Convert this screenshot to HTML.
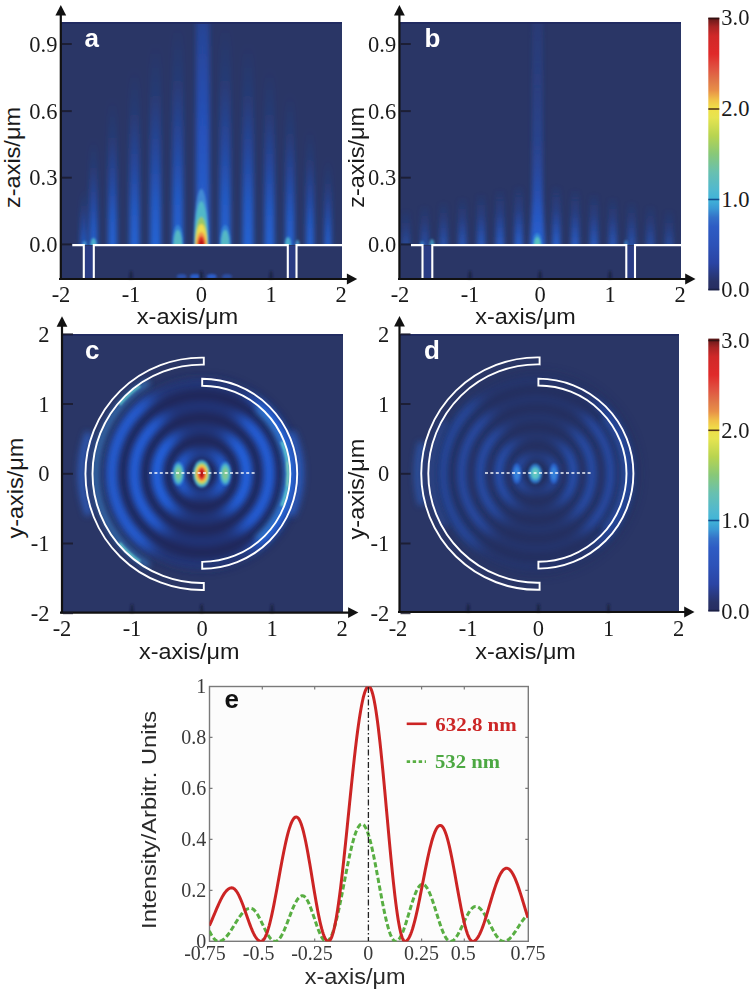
<!DOCTYPE html>
<html><head><meta charset="utf-8">
<style>
html,body{margin:0;padding:0;background:#fff;width:750px;height:992px;overflow:hidden}
svg{display:block}
.tk{font-family:"Liberation Serif",serif;font-size:22.5px;fill:#1a1a1a}
.tt{font-family:"Liberation Sans",sans-serif;font-size:22.5px;fill:#1a1a1a}
.lb{font-family:"Liberation Sans",sans-serif;font-size:26px;font-weight:bold;fill:#fff}
.ek{font-family:"Liberation Serif",serif;font-size:20px;fill:#3a3a3a}
.lg{font-family:"Liberation Serif",serif;font-size:18px;font-weight:bold}
</style></head><body>
<svg width="750" height="992" viewBox="0 0 750 992">
<defs>
  <filter id="b1" x="-50%" y="-50%" width="200%" height="200%"><feGaussianBlur stdDeviation="1"/></filter>
  <filter id="b2" x="-50%" y="-50%" width="200%" height="200%"><feGaussianBlur stdDeviation="2"/></filter>
  <filter id="b3" x="-50%" y="-50%" width="200%" height="200%"><feGaussianBlur stdDeviation="3"/></filter>
  <filter id="b4" x="-50%" y="-50%" width="200%" height="200%"><feGaussianBlur stdDeviation="4"/></filter>
  <filter id="b6" x="-50%" y="-50%" width="200%" height="200%"><feGaussianBlur stdDeviation="6"/></filter>
  <linearGradient id="cbar" x1="0" y1="1" x2="0" y2="0">
    <stop offset="0" stop-color="#262c60"/>
    <stop offset="0.033" stop-color="#283268"/>
    <stop offset="0.1" stop-color="#2a44a4"/>
    <stop offset="0.167" stop-color="#2c52b8"/>
    <stop offset="0.233" stop-color="#2e5cc4"/>
    <stop offset="0.267" stop-color="#3470c8"/>
    <stop offset="0.3" stop-color="#3a98d4"/>
    <stop offset="0.333" stop-color="#40b4d8"/>
    <stop offset="0.367" stop-color="#50b8d0"/>
    <stop offset="0.433" stop-color="#68c0b0"/>
    <stop offset="0.5" stop-color="#88c878"/>
    <stop offset="0.567" stop-color="#b8d450"/>
    <stop offset="0.633" stop-color="#e6e450"/>
    <stop offset="0.667" stop-color="#f0e048"/>
    <stop offset="0.7" stop-color="#f0c048"/>
    <stop offset="0.733" stop-color="#e89048"/>
    <stop offset="0.767" stop-color="#e07848"/>
    <stop offset="0.817" stop-color="#e05040"/>
    <stop offset="0.867" stop-color="#e02a2a"/>
    <stop offset="0.933" stop-color="#d02828"/>
    <stop offset="0.967" stop-color="#a82424"/>
    <stop offset="1.0" stop-color="#601818"/>
  </linearGradient>
  <linearGradient id="sg" x1="0" y1="0" x2="0" y2="1">
    <stop offset="0" stop-color="#2058d0" stop-opacity="0"/>
    <stop offset="0.25" stop-color="#2058d0" stop-opacity="0.15"/>
    <stop offset="0.5" stop-color="#2058d0" stop-opacity="0.5"/>
    <stop offset="0.75" stop-color="#2260d4" stop-opacity="0.85"/>
    <stop offset="1" stop-color="#2466d8" stop-opacity="1"/>
  </linearGradient>
  <linearGradient id="sgc" x1="0" y1="0" x2="0" y2="1">
    <stop offset="0" stop-color="#2450c4" stop-opacity="0.3"/>
    <stop offset="0.12" stop-color="#2454c8" stop-opacity="0.5"/>
    <stop offset="0.5" stop-color="#2458d0" stop-opacity="0.8"/>
    <stop offset="1" stop-color="#2a68d8" stop-opacity="1"/>
  </linearGradient>
  <linearGradient id="sgb" x1="0" y1="0" x2="0" y2="1">
    <stop offset="0" stop-color="#2458d0" stop-opacity="0"/>
    <stop offset="0.4" stop-color="#2458d0" stop-opacity="0.3"/>
    <stop offset="0.75" stop-color="#2660d4" stop-opacity="0.75"/>
    <stop offset="1" stop-color="#2a68d8" stop-opacity="1"/>
  </linearGradient>
  <linearGradient id="sgbc" x1="0" y1="0" x2="0" y2="1">
    <stop offset="0" stop-color="#2a56c4" stop-opacity="0.12"/>
    <stop offset="0.4" stop-color="#2a56c4" stop-opacity="0.3"/>
    <stop offset="0.7" stop-color="#2a58c8" stop-opacity="0.5"/>
    <stop offset="1" stop-color="#2a60d4" stop-opacity="0.8"/>
  </linearGradient>
  <radialGradient id="spotA" cx="0.5" cy="0.5" r="0.5">
    <stop offset="0" stop-color="#c81818"/>
    <stop offset="0.1" stop-color="#e84030"/>
    <stop offset="0.22" stop-color="#f0c840"/>
    <stop offset="0.34" stop-color="#b0d058"/>
    <stop offset="0.5" stop-color="#58c0b8"/>
    <stop offset="0.7" stop-color="#3c9ad8" stop-opacity="0.8"/>
    <stop offset="1" stop-color="#3070d8" stop-opacity="0"/>
  </radialGradient>
  <radialGradient id="spotCy" cx="0.5" cy="0.5" r="0.5">
    <stop offset="0" stop-color="#70d0b8"/>
    <stop offset="0.35" stop-color="#48b8d8"/>
    <stop offset="0.7" stop-color="#3a8ad8" stop-opacity="0.6"/>
    <stop offset="1" stop-color="#3070d8" stop-opacity="0"/>
  </radialGradient>
  <clipPath id="abv"><rect x="0" y="0" width="750" height="245"/></clipPath>
  <filter id="mb10" x="-50%" y="-50%" width="200%" height="200%"><feGaussianBlur stdDeviation="10"/></filter>
  <filter id="bh" x="-100%" y="-20%" width="300%" height="140%"><feGaussianBlur stdDeviation="2.6 4"/></filter>
  <filter id="bh2" x="-100%" y="-20%" width="300%" height="140%"><feGaussianBlur stdDeviation="2 1"/></filter>
  <clipPath id="cpa"><rect x="60" y="22" width="282" height="257"/></clipPath>
  <clipPath id="cpb"><rect x="399" y="22" width="282" height="257"/></clipPath>
  <clipPath id="cpc"><rect x="61" y="334" width="282" height="279"/></clipPath>
  <clipPath id="cpd"><rect x="399" y="334" width="280" height="278"/></clipPath>
  <clipPath id="cpe"><rect x="209.5" y="686.5" width="318.5" height="255"/></clipPath>
</defs>

<rect x="60" y="22" width="282" height="257" fill="#2a3666"/>
<g id="hma" clip-path="url(#cpa)">
<g clip-path="url(#abv)"><g filter="url(#bh)">
<rect x="196" y="0" width="13.5" height="256" fill="url(#sgc)"/>
<rect x="172.3" y="25" width="11" height="231" fill="url(#sg)"/>
<rect x="219.7" y="25" width="11" height="231" fill="url(#sg)"/>
<rect x="150.0" y="45" width="11" height="211" fill="url(#sg)"/>
<rect x="242.5" y="45" width="11" height="211" fill="url(#sg)"/>
<rect x="129.5" y="70" width="10" height="186" fill="url(#sg)"/>
<rect x="264.5" y="70" width="10" height="186" fill="url(#sg)"/>
<rect x="108.0" y="100" width="9" height="156" fill="url(#sg)"/>
<rect x="285.5" y="95" width="9" height="161" fill="url(#sg)"/>
<rect x="89.5" y="140" width="8" height="116" fill="url(#sg)"/>
<rect x="306.0" y="130" width="8" height="126" fill="url(#sg)"/>
<rect x="80.5" y="190" width="6" height="66" fill="url(#sg)"/>
<rect x="324.5" y="160" width="7" height="96" fill="url(#sg)"/>
</g></g>
<g clip-path="url(#abv)"><g filter="url(#b1)">
<ellipse cx="201.3" cy="245" rx="7.5" ry="56" fill="#4a9ad8" opacity="0.75"/>
<ellipse cx="201.3" cy="245" rx="6.8" ry="44" fill="#52bcc8" opacity="0.95"/>
<ellipse cx="201.3" cy="245" rx="6.3" ry="28" fill="#98c868" opacity="1"/>
<ellipse cx="201.3" cy="245" rx="5.8" ry="21" fill="#f0dc50" opacity="1"/>
<ellipse cx="201.3" cy="245" rx="4.8" ry="13" fill="#f09848" opacity="1"/>
<ellipse cx="201.3" cy="245" rx="3.8" ry="9" fill="#e03028" opacity="1"/>
<ellipse cx="201.3" cy="245" rx="2.4" ry="5" fill="#b81818" opacity="1"/>
<ellipse cx="177.8" cy="245" rx="5.5" ry="20" fill="#3a90d8" opacity="0.7"/>
<ellipse cx="177.8" cy="245" rx="4.3" ry="15" fill="#56bcc4" opacity="0.95"/>
<ellipse cx="225.2" cy="245" rx="5.5" ry="20" fill="#3a90d8" opacity="0.7"/>
<ellipse cx="225.2" cy="245" rx="4.3" ry="15" fill="#56bcc4" opacity="0.95"/>
<ellipse cx="93.5" cy="245" rx="3" ry="7" fill="#50b8d0" opacity="0.9"/>
<ellipse cx="84.5" cy="245" rx="2" ry="4" fill="#4aa0d8" opacity="0.8"/>
<ellipse cx="288" cy="245" rx="3" ry="8" fill="#50b8d0" opacity="0.9"/>
<ellipse cx="297.5" cy="245" rx="2" ry="5" fill="#4aa0d8" opacity="0.8"/>
</g></g>
<g filter="url(#b1)">
<ellipse cx="181.6" cy="276.5" rx="5" ry="2.6" fill="#2c64dc" opacity="0.6"/>
<ellipse cx="195" cy="276.5" rx="5" ry="2.6" fill="#2c64dc" opacity="0.85"/>
<ellipse cx="211.6" cy="276.5" rx="5" ry="2.6" fill="#2c64dc" opacity="0.85"/>
<ellipse cx="227" cy="276.5" rx="5" ry="2.6" fill="#2c64dc" opacity="0.5"/>
</g>
</g>
<rect x="60" y="22" width="282" height="2" fill="#1e2660" opacity="0.7"/>
<rect x="399" y="22" width="282" height="257" fill="#2a3666"/>
<g id="hmb" clip-path="url(#cpb)">
<g clip-path="url(#abv)"><g filter="url(#bh2)">
<rect x="532" y="0" width="11" height="250" fill="url(#sgbc)"/>
<path d="M529.5,250 L534.5,150 L540.5,150 L545.5,250 Z" fill="url(#sgb)" opacity="0.9"/>
<rect x="382.85" y="212" width="8.5" height="38" fill="url(#sgb)" opacity="0.45"/>
<rect x="401.65" y="208" width="8.5" height="42" fill="url(#sgb)" opacity="0.51"/>
<rect x="420.45" y="204" width="8.5" height="46" fill="url(#sgb)" opacity="0.58"/>
<rect x="439.25" y="200" width="8.5" height="50" fill="url(#sgb)" opacity="0.65"/>
<rect x="458.05" y="196" width="8.5" height="54" fill="url(#sgb)" opacity="0.72"/>
<rect x="476.85" y="192" width="8.5" height="58" fill="url(#sgb)" opacity="0.79"/>
<rect x="495.65" y="188" width="8.5" height="62" fill="url(#sgb)" opacity="0.86"/>
<rect x="514.45" y="184" width="8.5" height="66" fill="url(#sgb)" opacity="0.93"/>
<rect x="552.05" y="184" width="8.5" height="66" fill="url(#sgb)" opacity="0.93"/>
<rect x="570.85" y="188" width="8.5" height="62" fill="url(#sgb)" opacity="0.86"/>
<rect x="589.65" y="192" width="8.5" height="58" fill="url(#sgb)" opacity="0.79"/>
<rect x="608.45" y="196" width="8.5" height="54" fill="url(#sgb)" opacity="0.72"/>
<rect x="627.25" y="200" width="8.5" height="50" fill="url(#sgb)" opacity="0.65"/>
<rect x="646.05" y="204" width="8.5" height="46" fill="url(#sgb)" opacity="0.58"/>
<rect x="664.85" y="208" width="8.5" height="42" fill="url(#sgb)" opacity="0.51"/>
<rect x="683.65" y="212" width="8.5" height="38" fill="url(#sgb)" opacity="0.45"/>
</g></g>
<g clip-path="url(#abv)"><g filter="url(#b1)">
<ellipse cx="537.3" cy="245" rx="4.5" ry="12" fill="#3a90d8" opacity="0.8"/>
<ellipse cx="537.3" cy="245" rx="3.2" ry="8" fill="#58c4c0" opacity="1"/>
<ellipse cx="432" cy="245" rx="2.5" ry="6" fill="#4ab0d8" opacity="0.7"/>
<ellipse cx="422" cy="245" rx="2" ry="4" fill="#3a90d8" opacity="0.6"/>
<ellipse cx="626" cy="245" rx="2" ry="5" fill="#3a90d8" opacity="0.6"/>
</g></g>
</g>
<rect x="399" y="22" width="282" height="2" fill="#1e2660" opacity="0.7"/>
<rect x="61" y="334" width="282" height="279" fill="#2a3666"/>
<g id="hmc" clip-path="url(#cpc)">
<circle cx="201.7" cy="473.8" r="94" fill="#1a2454" opacity="0.7" filter="url(#b6)"/>
<mask id="mc" maskUnits="userSpaceOnUse" x="0" y="0" width="750" height="992">
<rect x="0" y="0" width="750" height="992" fill="rgb(56,56,56)"/>
<g filter="url(#mb10)">
<polygon points="201.7,473.8 316.4,637.6 316.4,310.0" fill="#fff"/>
<polygon points="201.7,473.8 87.0,310.0 87.0,637.6" fill="#fff"/>
</g></mask>
<g mask="url(#mc)"><g filter="url(#b3)">
<circle cx="201.7" cy="473.8" r="22.5" fill="none" stroke="#2460da" stroke-width="12" opacity="1.00"/>
<circle cx="201.7" cy="473.8" r="45" fill="none" stroke="#2460da" stroke-width="12" opacity="1.00"/>
<circle cx="201.7" cy="473.8" r="67.5" fill="none" stroke="#2460da" stroke-width="12" opacity="0.95"/>
<circle cx="201.7" cy="473.8" r="90" fill="none" stroke="#2460da" stroke-width="12" opacity="0.90"/>
</g></g>
<g filter="url(#b3)">
<path d="M148.70,382.00 A106,106 0 0 0 148.70,565.60" fill="none" stroke="#3a90e0" stroke-width="5" opacity="0.75"/>
<path d="M256.66,539.30 A85.5,85.5 0 0 0 256.66,408.30" fill="none" stroke="#3a90e0" stroke-width="5" opacity="0.8"/>
<path d="M88.94,432.76 A120,120 0 0 0 88.94,514.84" fill="none" stroke="#2f6ad8" stroke-width="7" opacity="0.7"/>
<path d="M291.42,515.64 A99,99 0 0 0 291.42,431.96" fill="none" stroke="#2f6ad8" stroke-width="7" opacity="0.7"/>
</g>
<g filter="url(#b1)">
<path d="M140.04,385.74 A107.5,107.5 0 0 0 119.35,404.70" fill="none" stroke="#60d0d0" stroke-width="2.5" opacity="0.9"/>
<path d="M119.35,542.90 A107.5,107.5 0 0 0 140.04,561.86" fill="none" stroke="#60d0d0" stroke-width="2.5" opacity="0.9"/>
<path d="M281.72,506.13 A86.3,86.3 0 0 0 281.72,441.47" fill="none" stroke="#60d0d0" stroke-width="3" opacity="0.9"/>
<path d="M287.16,485.81 A86.3,86.3 0 0 0 287.16,461.79" fill="none" stroke="#90e0b0" stroke-width="2.5" opacity="0.8"/>
</g>
<g filter="url(#b1)">
<ellipse cx="178.39999999999998" cy="473.8" rx="6" ry="12" fill="#3a90d8" opacity="0.8"/>
<ellipse cx="178.39999999999998" cy="473.8" rx="4.5" ry="9.5" fill="#58c0c0"/>
<ellipse cx="178.39999999999998" cy="473.8" rx="2.8" ry="6" fill="#80c890"/>
<ellipse cx="225.29999999999998" cy="473.8" rx="6" ry="12" fill="#3a90d8" opacity="0.8"/>
<ellipse cx="225.29999999999998" cy="473.8" rx="4.5" ry="9.5" fill="#58c0c0"/>
<ellipse cx="225.29999999999998" cy="473.8" rx="2.8" ry="6" fill="#80c890"/>
<ellipse cx="201.7" cy="473.8" rx="9" ry="14" fill="#3a90d8" opacity="0.8"/>
<ellipse cx="201.7" cy="473.8" rx="8" ry="12.5" fill="#56c0c0" opacity="1"/>
<ellipse cx="201.7" cy="473.8" rx="6.8" ry="10.5" fill="#a0cc60" opacity="1"/>
<ellipse cx="201.7" cy="473.8" rx="5.8" ry="9" fill="#f0dc50" opacity="1"/>
<ellipse cx="201.7" cy="473.8" rx="4.5" ry="7.5" fill="#f09048" opacity="1"/>
<ellipse cx="201.7" cy="473.8" rx="3.4" ry="6" fill="#e02828" opacity="1"/>
<ellipse cx="201.7" cy="473.8" rx="1.8" ry="3.5" fill="#b01818" opacity="1"/>
</g>
<path d="M203.8,357.62 A116.2,116.2 0 1 0 203.8,589.98 L203.8,582.98 A109.2,109.2 0 1 1 203.8,364.62 Z M202.2,378.80 A95.0,95.0 0 0 1 202.2,568.80 L202.2,561.90 A88.1,88.1 0 0 0 202.2,385.70 Z" fill="none" stroke="#fff" stroke-width="1.9"/>
<line x1="149" y1="473.0" x2="256" y2="473.0" stroke="#fff" stroke-width="1.5" stroke-dasharray="3,2.4" opacity="0.95"/>
</g>
<rect x="61" y="334" width="282" height="2" fill="#1e2660" opacity="0.7"/>
<rect x="399" y="334" width="280" height="278" fill="#2a3666"/>
<g id="hmd" clip-path="url(#cpd)">
<circle cx="537.6" cy="473.6" r="100" fill="#1c2656" opacity="0.4" filter="url(#b6)"/>
<mask id="md" maskUnits="userSpaceOnUse" x="0" y="0" width="750" height="992">
<rect x="0" y="0" width="750" height="992" fill="rgb(51,51,51)"/>
<g filter="url(#mb10)">
<polygon points="537.6,473.6 666.2,626.8 666.2,320.4" fill="#fff"/>
<polygon points="537.6,473.6 409.0,320.4 409.0,626.8" fill="#fff"/>
</g></mask>
<g mask="url(#md)"><g filter="url(#b3)">
<circle cx="536.1" cy="473.6" r="19" fill="none" stroke="#2660d8" stroke-width="10" opacity="0.60"/>
<circle cx="536.1" cy="473.6" r="37.5" fill="none" stroke="#2660d8" stroke-width="10" opacity="0.60"/>
<circle cx="536.1" cy="473.6" r="56" fill="none" stroke="#2660d8" stroke-width="10" opacity="0.57"/>
<circle cx="536.1" cy="473.6" r="74.5" fill="none" stroke="#2660d8" stroke-width="10" opacity="0.54"/>
<circle cx="536.1" cy="473.6" r="93" fill="none" stroke="#2660d8" stroke-width="10" opacity="0.48"/>
</g></g>
<g filter="url(#b3)">
<path d="M421.69,442.54 A120,120 0 0 0 421.69,504.66" fill="none" stroke="#2f6ad8" stroke-width="6" opacity="0.6"/>
<path d="M445.80,420.60 A106,106 0 0 0 445.80,526.60" fill="none" stroke="#2f6ad8" stroke-width="4" opacity="0.5"/>
<path d="M603.10,528.56 A85.5,85.5 0 0 0 603.10,418.64" fill="none" stroke="#2f6ad8" stroke-width="4" opacity="0.5"/>
</g>
<g filter="url(#b1)">
<ellipse cx="516.8000000000001" cy="473.6" rx="4.5" ry="10" fill="#2a6cd8" opacity="0.8"/>
<ellipse cx="516.8000000000001" cy="473.6" rx="2.8" ry="6.5" fill="#3a88dc" opacity="0.8"/>
<ellipse cx="553.8000000000001" cy="473.6" rx="4.5" ry="10" fill="#2a6cd8" opacity="0.8"/>
<ellipse cx="553.8000000000001" cy="473.6" rx="2.8" ry="6.5" fill="#3a88dc" opacity="0.8"/>
<ellipse cx="535.3000000000001" cy="473.6" rx="7" ry="10" fill="#3080d8" opacity="0.8"/>
<ellipse cx="535.3000000000001" cy="473.6" rx="5" ry="7" fill="#48b0d0" opacity="1"/>
<ellipse cx="535.3000000000001" cy="473.6" rx="3.2" ry="4.5" fill="#60c8c0" opacity="1"/>
</g>
<path d="M539.6,357.42 A116.2,116.2 0 1 0 539.6,589.78 L539.6,582.78 A109.2,109.2 0 1 1 539.6,364.42 Z M538.4,378.60 A95.0,95.0 0 0 1 538.4,568.60 L538.4,561.70 A88.1,88.1 0 0 0 538.4,385.50 Z" fill="none" stroke="#fff" stroke-width="1.9"/>
<line x1="485" y1="473.0" x2="592" y2="473.0" stroke="#fff" stroke-width="1.5" stroke-dasharray="3,2.4" opacity="0.95"/>
</g>
<rect x="399" y="334" width="280" height="2" fill="#1e2660" opacity="0.7"/>
<rect x="84.8" y="246" width="8.0" height="33" fill="#2a44a8" opacity="0.45"/>
<rect x="288.8" y="246" width="6.699999999999989" height="33" fill="#2a44a8" opacity="0.45"/>
<path d="M72.3,245.1 H83.8 V279 M93.8,279 V245.1 H287.8 V279 M296.5,279 V245.1 H342" fill="none" stroke="#fff" stroke-width="2.1"/>
<rect x="423.5" y="246" width="7.800000000000011" height="33" fill="#2a44a8" opacity="0.45"/>
<rect x="627.3" y="246" width="6.7000000000000455" height="33" fill="#2a44a8" opacity="0.45"/>
<path d="M411,245.1 H422.5 V279 M432.3,279 V245.1 H626.3 V279 M635,279 V245.1 H681" fill="none" stroke="#fff" stroke-width="2.1"/>
<g filter="url(#b1)"><path d="M129.4,279 L130,271 L132,271 L132.6,279 Z" fill="#1a1e3a" opacity="0.85"/><path d="M199.70000000000002,279 L200.3,271 L202.3,271 L202.9,279 Z" fill="#1a1e3a" opacity="0.85"/><path d="M269.4,279 L270,271 L272,271 L272.6,279 Z" fill="#1a1e3a" opacity="0.85"/><path d="M468.4,279 L469,271 L471,271 L471.6,279 Z" fill="#1a1e3a" opacity="0.85"/><path d="M538.4,279 L539,271 L541,271 L541.6,279 Z" fill="#1a1e3a" opacity="0.85"/><path d="M608.4,279 L609,271 L611,271 L611.6,279 Z" fill="#1a1e3a" opacity="0.85"/><path d="M130.4,612.6 L131,604.6 L133,604.6 L133.6,612.6 Z" fill="#1a1e3a" opacity="0.85"/><path d="M200.1,612.6 L200.7,604.6 L202.7,604.6 L203.29999999999998,612.6 Z" fill="#1a1e3a" opacity="0.85"/><path d="M270.4,612.6 L271,604.6 L273,604.6 L273.6,612.6 Z" fill="#1a1e3a" opacity="0.85"/><path d="M466.59999999999997,612 L467.2,604 L469.2,604 L469.8,612 Z" fill="#1a1e3a" opacity="0.85"/><path d="M536.8,612 L537.4,604 L539.4,604 L540.0,612 Z" fill="#1a1e3a" opacity="0.85"/><path d="M606.9,612 L607.5,604 L609.5,604 L610.1,612 Z" fill="#1a1e3a" opacity="0.85"/></g>
<line x1="60.8" y1="280" x2="60.8" y2="14" stroke="#111" stroke-width="2.2"/>
<polygon points="60.8,5 55.4,15.5 66.2,15.5" fill="#111"/>
<line x1="59" y1="279" x2="348.2" y2="279" stroke="#111" stroke-width="2.2"/>
<polygon points="357.2,279 346.9,273.6 346.9,284.4" fill="#111"/>
<line x1="399.4" y1="280" x2="399.4" y2="14" stroke="#111" stroke-width="2.2"/>
<polygon points="399.4,5 394.0,15.5 404.79999999999995,15.5" fill="#111"/>
<line x1="398" y1="279" x2="686.5" y2="279" stroke="#111" stroke-width="2.2"/>
<polygon points="695.5,279 685.2,273.6 685.2,284.4" fill="#111"/>
<line x1="62" y1="613.6" x2="62" y2="325.2" stroke="#111" stroke-width="2.2"/>
<polygon points="62,316.2 56.6,326.7 67.4,326.7" fill="#111"/>
<line x1="60" y1="612.6" x2="349.4" y2="612.6" stroke="#111" stroke-width="2.2"/>
<polygon points="358.4,612.6 348.09999999999997,607.2 348.09999999999997,618.0" fill="#111"/>
<line x1="399.5" y1="613" x2="399.5" y2="325" stroke="#111" stroke-width="2.2"/>
<polygon points="399.5,316 394.1,326.5 404.9,326.5" fill="#111"/>
<line x1="398" y1="612" x2="685.5" y2="612" stroke="#111" stroke-width="2.2"/>
<polygon points="694.5,612 684.2,606.6 684.2,617.4" fill="#111"/>
<line x1="61.8" y1="44" x2="71.8" y2="44" stroke="#1a1a2a" stroke-width="2" opacity="0.8"/>
<text class="tk" x="57.4" y="51.6" text-anchor="end">0.9</text>
<line x1="61.8" y1="111.1" x2="71.8" y2="111.1" stroke="#1a1a2a" stroke-width="2" opacity="0.8"/>
<text class="tk" x="57.4" y="118.69999999999999" text-anchor="end">0.6</text>
<line x1="61.8" y1="177.7" x2="71.8" y2="177.7" stroke="#1a1a2a" stroke-width="2" opacity="0.8"/>
<text class="tk" x="57.4" y="185.29999999999998" text-anchor="end">0.3</text>
<line x1="61.8" y1="244.4" x2="71.8" y2="244.4" stroke="#1a1a2a" stroke-width="2" opacity="0.8"/>
<text class="tk" x="57.4" y="252.0" text-anchor="end">0.0</text>
<line x1="400.8" y1="44" x2="410.8" y2="44" stroke="#1a1a2a" stroke-width="2" opacity="0.8"/>
<text class="tk" x="396.2" y="51.6" text-anchor="end">0.9</text>
<line x1="400.8" y1="111.1" x2="410.8" y2="111.1" stroke="#1a1a2a" stroke-width="2" opacity="0.8"/>
<text class="tk" x="396.2" y="118.69999999999999" text-anchor="end">0.6</text>
<line x1="400.8" y1="177.7" x2="410.8" y2="177.7" stroke="#1a1a2a" stroke-width="2" opacity="0.8"/>
<text class="tk" x="396.2" y="185.29999999999998" text-anchor="end">0.3</text>
<line x1="400.8" y1="244.4" x2="410.8" y2="244.4" stroke="#1a1a2a" stroke-width="2" opacity="0.8"/>
<text class="tk" x="396.2" y="252.0" text-anchor="end">0.0</text>
<line x1="63" y1="334.3" x2="73" y2="334.3" stroke="#1a1a2a" stroke-width="2" opacity="0.8"/>
<text class="tk" x="49.6" y="341.90000000000003" text-anchor="end">2</text>
<line x1="63" y1="404" x2="73" y2="404" stroke="#1a1a2a" stroke-width="2" opacity="0.8"/>
<text class="tk" x="49.6" y="411.6" text-anchor="end">1</text>
<line x1="63" y1="473.8" x2="73" y2="473.8" stroke="#1a1a2a" stroke-width="2" opacity="0.8"/>
<text class="tk" x="49.6" y="481.40000000000003" text-anchor="end">0</text>
<line x1="63" y1="543.5" x2="73" y2="543.5" stroke="#1a1a2a" stroke-width="2" opacity="0.8"/>
<text class="tk" x="49.6" y="551.1" text-anchor="end">-1</text>
<line x1="63" y1="613.2" x2="73" y2="613.2" stroke="#1a1a2a" stroke-width="2" opacity="0.8"/>
<text class="tk" x="49.6" y="620.8000000000001" text-anchor="end">-2</text>
<line x1="400.5" y1="334.3" x2="410.5" y2="334.3" stroke="#1a1a2a" stroke-width="2" opacity="0.8"/>
<text class="tk" x="389.2" y="341.90000000000003" text-anchor="end">2</text>
<line x1="400.5" y1="404" x2="410.5" y2="404" stroke="#1a1a2a" stroke-width="2" opacity="0.8"/>
<text class="tk" x="389.2" y="411.6" text-anchor="end">1</text>
<line x1="400.5" y1="473.8" x2="410.5" y2="473.8" stroke="#1a1a2a" stroke-width="2" opacity="0.8"/>
<text class="tk" x="389.2" y="481.40000000000003" text-anchor="end">0</text>
<line x1="400.5" y1="543.5" x2="410.5" y2="543.5" stroke="#1a1a2a" stroke-width="2" opacity="0.8"/>
<text class="tk" x="389.2" y="551.1" text-anchor="end">-1</text>
<line x1="400.5" y1="613.2" x2="410.5" y2="613.2" stroke="#1a1a2a" stroke-width="2" opacity="0.8"/>
<text class="tk" x="389.2" y="620.8000000000001" text-anchor="end">-2</text>
<text class="tk" x="61" y="301.7" text-anchor="middle">-2</text>
<text class="tk" x="131" y="301.7" text-anchor="middle">-1</text>
<text class="tk" x="201.3" y="301.7" text-anchor="middle">0</text>
<text class="tk" x="271" y="301.7" text-anchor="middle">1</text>
<text class="tk" x="341" y="301.7" text-anchor="middle">2</text>
<text class="tk" x="400" y="301.7" text-anchor="middle">-2</text>
<text class="tk" x="470" y="301.7" text-anchor="middle">-1</text>
<text class="tk" x="540" y="301.7" text-anchor="middle">0</text>
<text class="tk" x="610" y="301.7" text-anchor="middle">1</text>
<text class="tk" x="680" y="301.7" text-anchor="middle">2</text>
<text class="tk" x="62" y="635.5" text-anchor="middle">-2</text>
<text class="tk" x="132" y="635.5" text-anchor="middle">-1</text>
<text class="tk" x="202" y="635.5" text-anchor="middle">0</text>
<text class="tk" x="272" y="635.5" text-anchor="middle">1</text>
<text class="tk" x="342.2" y="635.5" text-anchor="middle">2</text>
<text class="tk" x="398" y="635.5" text-anchor="middle">-2</text>
<text class="tk" x="468.2" y="635.5" text-anchor="middle">-1</text>
<text class="tk" x="538.4" y="635.5" text-anchor="middle">0</text>
<text class="tk" x="608.5" y="635.5" text-anchor="middle">1</text>
<text class="tk" x="678.6" y="635.5" text-anchor="middle">2</text>
<text class="tt" x="187.5" y="323.7" text-anchor="middle" textLength="101.5" lengthAdjust="spacingAndGlyphs">x-axis/μm</text>
<text class="tt" x="525.6" y="323.7" text-anchor="middle" textLength="100.5" lengthAdjust="spacingAndGlyphs">x-axis/μm</text>
<text class="tt" x="189.3" y="658.7" text-anchor="middle" textLength="100.5" lengthAdjust="spacingAndGlyphs">x-axis/μm</text>
<text class="tt" x="525.6" y="658.6" text-anchor="middle" textLength="100.5" lengthAdjust="spacingAndGlyphs">x-axis/μm</text>
<text class="tt" transform="translate(19.9,157.5) rotate(-90)" text-anchor="middle" textLength="100.9" lengthAdjust="spacingAndGlyphs">z-axis/μm</text>
<text class="tt" transform="translate(363.8,157.3) rotate(-90)" text-anchor="middle" textLength="100.9" lengthAdjust="spacingAndGlyphs">z-axis/μm</text>
<text class="tt" transform="translate(23.3,488.2) rotate(-90)" text-anchor="middle" textLength="100.8" lengthAdjust="spacingAndGlyphs">y-axis/μm</text>
<text class="tt" transform="translate(363.8,489) rotate(-90)" text-anchor="middle" textLength="100.8" lengthAdjust="spacingAndGlyphs">y-axis/μm</text>
<text class="lb" x="84.5" y="47">a</text>
<text class="lb" x="424.5" y="47">b</text>
<text class="lb" x="85" y="359">c</text>
<text class="lb" x="424" y="359">d</text>
<rect x="708.3" y="17.7" width="11" height="272.6" fill="url(#cbar)"/>
<line x1="708.3" y1="18.5" x2="719.3" y2="18.5" stroke="#2a1010" stroke-width="1.6" opacity="0.85"/>
<text class="tk" x="721.3" y="25.3">3.0</text>
<line x1="708.3" y1="109.0" x2="719.3" y2="109.0" stroke="#3a1a10" stroke-width="1.6" opacity="0.85"/>
<text class="tk" x="721.3" y="116.3">2.0</text>
<line x1="708.3" y1="199.5" x2="719.3" y2="199.5" stroke="#0a3a80" stroke-width="1.6" opacity="0.85"/>
<text class="tk" x="721.3" y="206.8">1.0</text>
<line x1="708.3" y1="289.5" x2="719.3" y2="289.5" stroke="#1a1e40" stroke-width="1.6" opacity="0.85"/>
<text class="tk" x="721.3" y="297.3">0.0</text>
<rect x="708.3" y="338.6" width="11" height="272.79999999999995" fill="url(#cbar)"/>
<line x1="708.3" y1="340.5" x2="719.3" y2="340.5" stroke="#2a1010" stroke-width="1.6" opacity="0.85"/>
<text class="tk" x="721.3" y="347.8">3.0</text>
<line x1="708.3" y1="430.3" x2="719.3" y2="430.3" stroke="#3a1a10" stroke-width="1.6" opacity="0.85"/>
<text class="tk" x="721.3" y="437.6">2.0</text>
<line x1="708.3" y1="520.5" x2="719.3" y2="520.5" stroke="#0a3a80" stroke-width="1.6" opacity="0.85"/>
<text class="tk" x="721.3" y="527.8">1.0</text>
<line x1="708.3" y1="610.6" x2="719.3" y2="610.6" stroke="#1a1e40" stroke-width="1.6" opacity="0.85"/>
<text class="tk" x="721.3" y="618.8">0.0</text>
<rect x="209.5" y="686.5" width="318.8" height="254.8" fill="#fcfcfc" stroke="#7a7a7a" stroke-width="1.4"/>
<path d="M209.5,890.4 h3 M528.3,890.4 h-3 M209.5,839.4 h3 M528.3,839.4 h-3 M209.5,788.4 h3 M528.3,788.4 h-3 M209.5,737.4 h3 M528.3,737.4 h-3 M262.3,941.4 v-3 M262.3,686.5 v3 M314.7,941.4 v-3 M314.7,686.5 v3 M421.6,941.4 v-3 M421.6,686.5 v3 M464.3,941.4 v-3 M464.3,686.5 v3" stroke="#7a7a7a" stroke-width="1.2" fill="none"/>
<text class="ek" x="206.3" y="693.2" text-anchor="end">1</text>
<text class="ek" x="206.3" y="744.2" text-anchor="end">0.8</text>
<text class="ek" x="206.3" y="795.2" text-anchor="end">0.6</text>
<text class="ek" x="206.3" y="846.2" text-anchor="end">0.4</text>
<text class="ek" x="206.3" y="897.2" text-anchor="end">0.2</text>
<text class="ek" x="206.3" y="948.2" text-anchor="end">0</text>
<text class="ek" x="205" y="960.3" text-anchor="middle">-0.75</text>
<text class="ek" x="258.7" y="960.3" text-anchor="middle">-0.5</text>
<text class="ek" x="312" y="960.3" text-anchor="middle">-0.25</text>
<text class="ek" x="368.3" y="960.3" text-anchor="middle">0</text>
<text class="ek" x="421.4" y="960.3" text-anchor="middle">0.25</text>
<text class="ek" x="463.2" y="960.3" text-anchor="middle">0.5</text>
<text class="ek" x="528.1" y="960.3" text-anchor="middle">0.75</text>
<text class="tt" style="fill:#2a2a2a;font-size:21.2px" x="355.2" y="983.5" text-anchor="middle" textLength="101" lengthAdjust="spacingAndGlyphs">x-axis/μm</text>
<text class="tt" style="fill:#2a2a2a;font-size:21px" transform="translate(155.6,819.9) rotate(-90)" text-anchor="middle" textLength="218" lengthAdjust="spacingAndGlyphs">Intensity/Arbitr. Units</text>
<text class="lb" style="fill:#111" x="224.5" y="708">e</text>
<g clip-path="url(#cpe)">
<path d="M209.40,930.98 L210.20,932.57 L210.99,934.06 L211.79,935.45 L212.59,936.71 L213.38,937.85 L214.18,938.84 L214.98,939.68 L215.77,940.36 L216.57,940.87 L217.36,941.21 L218.16,941.38 L218.96,941.39 L219.75,941.28 L220.55,941.07 L221.35,940.77 L222.14,940.36 L222.94,939.86 L223.74,939.27 L224.53,938.58 L225.33,937.81 L226.13,936.97 L226.92,936.04 L227.72,935.05 L228.52,934.00 L229.31,932.89 L230.11,931.72 L230.91,930.52 L231.70,929.28 L232.50,928.02 L233.29,926.73 L234.09,925.43 L234.89,924.13 L235.68,922.83 L236.48,921.55 L237.28,920.28 L238.07,919.05 L238.87,917.85 L239.67,916.69 L240.46,915.58 L241.26,914.53 L242.06,913.54 L242.85,912.62 L243.65,911.78 L244.45,911.02 L245.24,910.34 L246.04,909.75 L246.84,909.26 L247.63,908.86 L248.43,908.56 L249.22,908.36 L250.02,908.26 L250.82,908.27 L251.61,908.45 L252.41,908.79 L253.21,909.29 L254.00,909.95 L254.80,910.76 L255.60,911.71 L256.39,912.79 L257.19,914.00 L257.99,915.32 L258.78,916.73 L259.58,918.23 L260.38,919.79 L261.17,921.40 L261.97,923.05 L262.77,924.71 L263.56,926.38 L264.36,928.03 L265.15,929.65 L265.95,931.22 L266.75,932.72 L267.54,934.15 L268.34,935.48 L269.14,936.70 L269.93,937.80 L270.73,938.77 L271.53,939.60 L272.32,940.28 L273.12,940.81 L273.92,941.17 L274.71,941.36 L275.51,941.39 L276.31,941.23 L277.10,940.88 L277.90,940.33 L278.70,939.61 L279.49,938.71 L280.29,937.63 L281.08,936.40 L281.88,935.01 L282.68,933.48 L283.47,931.83 L284.27,930.07 L285.07,928.21 L285.86,926.27 L286.66,924.26 L287.46,922.20 L288.25,920.12 L289.05,918.02 L289.85,915.92 L290.64,913.85 L291.44,911.82 L292.24,909.84 L293.03,907.94 L293.83,906.13 L294.63,904.43 L295.42,902.84 L296.22,901.39 L297.01,900.08 L297.81,898.93 L298.61,897.95 L299.40,897.14 L300.20,896.51 L301.00,896.07 L301.79,895.82 L302.59,895.76 L303.39,895.93 L304.18,896.35 L304.98,897.01 L305.78,897.91 L306.57,899.03 L307.37,900.36 L308.17,901.89 L308.96,903.60 L309.76,905.47 L310.56,907.49 L311.35,909.62 L312.15,911.86 L312.94,914.16 L313.74,916.52 L314.54,918.89 L315.33,921.27 L316.13,923.61 L316.93,925.90 L317.72,928.11 L318.52,930.22 L319.32,932.20 L320.11,934.03 L320.91,935.69 L321.71,937.17 L322.50,938.45 L323.30,939.51 L324.10,940.34 L324.89,940.94 L325.69,941.29 L326.49,941.40 L327.28,941.23 L328.08,940.78 L328.88,940.03 L329.67,939.00 L330.47,937.69 L331.26,936.11 L332.06,934.26 L332.86,932.16 L333.65,929.81 L334.45,927.22 L335.25,924.42 L336.04,921.40 L336.84,918.20 L337.64,914.82 L338.43,911.28 L339.23,907.59 L340.03,903.79 L340.82,899.87 L341.62,895.88 L342.42,891.82 L343.21,887.71 L344.01,883.58 L344.80,879.44 L345.60,875.32 L346.40,871.24 L347.19,867.22 L347.99,863.27 L348.79,859.42 L349.58,855.68 L350.38,852.08 L351.18,848.63 L351.97,845.36 L352.77,842.26 L353.57,839.37 L354.36,836.70 L355.16,834.25 L355.96,832.05 L356.75,830.10 L357.55,828.41 L358.35,826.99 L359.14,825.85 L359.94,824.99 L360.74,824.41 L361.53,824.13 L362.33,824.15 L363.12,824.48 L363.92,825.13 L364.72,826.10 L365.51,827.38 L366.31,828.96 L367.11,830.84 L367.90,833.00 L368.70,835.44 L369.50,838.13 L370.29,841.07 L371.09,844.24 L371.89,847.62 L372.68,851.20 L373.48,854.94 L374.28,858.84 L375.07,862.87 L375.87,867.01 L376.66,871.24 L377.46,875.53 L378.26,879.85 L379.05,884.20 L379.85,888.53 L380.65,892.84 L381.44,897.09 L382.24,901.26 L383.04,905.33 L383.83,909.27 L384.63,913.07 L385.43,916.71 L386.22,920.15 L387.02,923.39 L387.82,926.41 L388.61,929.19 L389.41,931.72 L390.21,933.97 L391.00,935.95 L391.80,937.63 L392.60,939.01 L393.39,940.08 L394.19,940.84 L394.98,941.28 L395.78,941.40 L396.58,941.24 L397.37,940.83 L398.17,940.18 L398.97,939.29 L399.76,938.17 L400.56,936.83 L401.36,935.28 L402.15,933.53 L402.95,931.60 L403.75,929.51 L404.54,927.27 L405.34,924.91 L406.14,922.44 L406.93,919.89 L407.73,917.27 L408.52,914.62 L409.32,911.95 L410.12,909.29 L410.91,906.66 L411.71,904.08 L412.51,901.58 L413.30,899.18 L414.10,896.90 L414.90,894.76 L415.69,892.77 L416.49,890.96 L417.29,889.34 L418.08,887.93 L418.88,886.73 L419.68,885.77 L420.47,885.04 L421.27,884.55 L422.07,884.31 L422.86,884.31 L423.66,884.55 L424.45,885.01 L425.25,885.69 L426.05,886.59 L426.84,887.69 L427.64,889.00 L428.44,890.50 L429.23,892.17 L430.03,894.01 L430.83,896.00 L431.62,898.12 L432.42,900.36 L433.22,902.70 L434.01,905.12 L434.81,907.60 L435.61,910.13 L436.40,912.67 L437.20,915.22 L438.00,917.74 L438.79,920.23 L439.59,922.66 L440.38,925.01 L441.18,927.27 L441.98,929.41 L442.77,931.41 L443.57,933.27 L444.37,934.97 L445.16,936.49 L445.96,937.82 L446.76,938.96 L447.55,939.88 L448.35,940.59 L449.15,941.08 L449.94,941.35 L450.74,941.39 L451.54,941.25 L452.33,940.94 L453.13,940.46 L453.93,939.82 L454.72,939.02 L455.52,938.08 L456.31,937.00 L457.11,935.79 L457.91,934.46 L458.70,933.03 L459.50,931.51 L460.30,929.92 L461.09,928.27 L461.89,926.57 L462.69,924.85 L463.48,923.13 L464.28,921.41 L465.08,919.71 L465.87,918.05 L466.67,916.46 L467.47,914.93 L468.26,913.50 L469.06,912.16 L469.86,910.95 L470.65,909.86 L471.45,908.90 L472.25,908.10 L473.04,907.45 L473.84,906.96 L474.63,906.63 L475.43,906.48 L476.23,906.49 L477.02,906.64 L477.82,906.93 L478.62,907.36 L479.41,907.92 L480.21,908.60 L481.01,909.41 L481.80,910.33 L482.60,911.36 L483.40,912.49 L484.19,913.72 L484.99,915.02 L485.79,916.39 L486.58,917.83 L487.38,919.31 L488.18,920.83 L488.97,922.38 L489.77,923.93 L490.56,925.49 L491.36,927.03 L492.16,928.55 L492.95,930.04 L493.75,931.47 L494.55,932.85 L495.34,934.15 L496.14,935.37 L496.94,936.50 L497.73,937.53 L498.53,938.46 L499.33,939.26 L500.12,939.95 L500.92,940.51 L501.72,940.93 L502.51,941.22 L503.31,941.37 L504.11,941.39 L504.90,941.29 L505.70,941.09 L506.49,940.78 L507.29,940.36 L508.09,939.85 L508.88,939.24 L509.68,938.54 L510.48,937.75 L511.27,936.88 L512.07,935.93 L512.87,934.93 L513.66,933.86 L514.46,932.74 L515.26,931.58 L516.05,930.39 L516.85,929.18 L517.65,927.95 L518.44,926.72 L519.24,925.49 L520.03,924.28 L520.83,923.09 L521.63,921.93 L522.42,920.82 L523.22,919.75 L524.02,918.75 L524.81,917.81 L525.61,916.95 L526.41,916.17 L527.20,915.47 L528.00,914.86" fill="none" stroke="#58ae42" stroke-width="3" stroke-dasharray="5.3,2.6"/>
<path d="M209.40,925.75 L210.20,923.98 L210.99,922.17 L211.79,920.32 L212.59,918.44 L213.38,916.54 L214.18,914.62 L214.98,912.71 L215.77,910.81 L216.57,908.93 L217.36,907.08 L218.16,905.27 L218.96,903.50 L219.75,901.79 L220.55,900.15 L221.35,898.58 L222.14,897.09 L222.94,895.69 L223.74,894.39 L224.53,893.19 L225.33,892.10 L226.13,891.13 L226.92,890.27 L227.72,889.54 L228.52,888.93 L229.31,888.46 L230.11,888.12 L230.91,887.92 L231.70,887.85 L232.50,887.95 L233.29,888.24 L234.09,888.72 L234.89,889.40 L235.68,890.25 L236.48,891.29 L237.28,892.49 L238.07,893.86 L238.87,895.37 L239.67,897.03 L240.46,898.81 L241.26,900.71 L242.06,902.71 L242.85,904.80 L243.65,906.96 L244.45,909.18 L245.24,911.43 L246.04,913.71 L246.84,916.00 L247.63,918.27 L248.43,920.52 L249.22,922.72 L250.02,924.87 L250.82,926.94 L251.61,928.93 L252.41,930.80 L253.21,932.56 L254.00,934.19 L254.80,935.68 L255.60,937.01 L256.39,938.18 L257.19,939.18 L257.99,940.00 L258.78,940.64 L259.58,941.08 L260.38,941.34 L261.17,941.39 L261.97,941.17 L262.77,940.64 L263.56,939.80 L264.36,938.66 L265.15,937.21 L265.95,935.47 L266.75,933.45 L267.54,931.16 L268.34,928.60 L269.14,925.80 L269.93,922.76 L270.73,919.50 L271.53,916.04 L272.32,912.39 L273.12,908.58 L273.92,904.61 L274.71,900.52 L275.51,896.32 L276.31,892.04 L277.10,887.69 L277.90,883.30 L278.70,878.89 L279.49,874.47 L280.29,870.09 L281.08,865.75 L281.88,861.47 L282.68,857.29 L283.47,853.21 L284.27,849.27 L285.07,845.47 L285.86,841.85 L286.66,838.41 L287.46,835.18 L288.25,832.17 L289.05,829.40 L289.85,826.88 L290.64,824.62 L291.44,822.64 L292.24,820.94 L293.03,819.53 L293.83,818.43 L294.63,817.63 L295.42,817.14 L296.22,816.96 L297.01,817.12 L297.81,817.67 L298.61,818.58 L299.40,819.87 L300.20,821.51 L301.00,823.51 L301.79,825.84 L302.59,828.50 L303.39,831.47 L304.18,834.73 L304.98,838.26 L305.78,842.03 L306.57,846.04 L307.37,850.24 L308.17,854.62 L308.96,859.15 L309.76,863.81 L310.56,868.55 L311.35,873.36 L312.15,878.21 L312.94,883.06 L313.74,887.89 L314.54,892.66 L315.33,897.36 L316.13,901.94 L316.93,906.38 L317.72,910.66 L318.52,914.75 L319.32,918.62 L320.11,922.25 L320.91,925.62 L321.71,928.71 L322.50,931.49 L323.30,933.96 L324.10,936.09 L324.89,937.88 L325.69,939.31 L326.49,940.37 L327.28,941.06 L328.08,941.38 L328.88,941.29 L329.67,940.72 L330.47,939.66 L331.26,938.12 L332.06,936.10 L332.86,933.61 L333.65,930.66 L334.45,927.26 L335.25,923.43 L336.04,919.17 L336.84,914.52 L337.64,909.47 L338.43,904.06 L339.23,898.30 L340.03,892.21 L340.82,885.83 L341.62,879.17 L342.42,872.25 L343.21,865.12 L344.01,857.78 L344.80,850.28 L345.60,842.64 L346.40,834.89 L347.19,827.05 L347.99,819.17 L348.79,811.26 L349.58,803.37 L350.38,795.52 L351.18,787.74 L351.97,780.05 L352.77,772.50 L353.57,765.11 L354.36,757.90 L355.16,750.91 L355.96,744.16 L356.75,737.68 L357.55,731.50 L358.35,725.63 L359.14,720.10 L359.94,714.92 L360.74,710.13 L361.53,705.74 L362.33,701.77 L363.12,698.22 L363.92,695.12 L364.72,692.48 L365.51,690.30 L366.31,688.60 L367.11,687.38 L367.90,686.65 L368.70,686.40 L369.50,686.70 L370.29,687.61 L371.09,689.11 L371.89,691.21 L372.68,693.89 L373.48,697.14 L374.28,700.94 L375.07,705.28 L375.87,710.13 L376.66,715.48 L377.46,721.29 L378.26,727.55 L379.05,734.21 L379.85,741.25 L380.65,748.63 L381.44,756.33 L382.24,764.30 L383.04,772.50 L383.83,780.90 L384.63,789.46 L385.43,798.13 L386.22,806.88 L387.02,815.66 L387.82,824.43 L388.61,833.15 L389.41,841.78 L390.21,850.28 L391.00,858.61 L391.80,866.72 L392.60,874.58 L393.39,882.16 L394.19,889.41 L394.98,896.30 L395.78,902.81 L396.58,908.89 L397.37,914.52 L398.17,919.67 L398.97,924.32 L399.76,928.44 L400.56,932.03 L401.36,935.05 L402.15,937.50 L402.95,939.36 L403.75,940.63 L404.54,941.29 L405.34,941.38 L406.14,941.11 L406.93,940.56 L407.73,939.72 L408.52,938.59 L409.32,937.19 L410.12,935.52 L410.91,933.58 L411.71,931.39 L412.51,928.96 L413.30,926.30 L414.10,923.43 L414.90,920.35 L415.69,917.09 L416.49,913.65 L417.29,910.07 L418.08,906.35 L418.88,902.51 L419.68,898.58 L420.47,894.57 L421.27,890.51 L422.07,886.41 L422.86,882.29 L423.66,878.18 L424.45,874.10 L425.25,870.06 L426.05,866.09 L426.84,862.21 L427.64,858.43 L428.44,854.78 L429.23,851.27 L430.03,847.93 L430.83,844.76 L431.62,841.79 L432.42,839.03 L433.22,836.49 L434.01,834.18 L434.81,832.13 L435.61,830.33 L436.40,828.80 L437.20,827.55 L438.00,826.57 L438.79,825.88 L439.59,825.48 L440.38,825.38 L441.18,825.60 L441.98,826.16 L442.77,827.06 L443.57,828.29 L444.37,829.85 L445.16,831.73 L445.96,833.91 L446.76,836.38 L447.55,839.14 L448.35,842.16 L449.15,845.42 L449.94,848.90 L450.74,852.60 L451.54,856.47 L452.33,860.50 L453.13,864.67 L453.93,868.95 L454.72,873.31 L455.52,877.74 L456.31,882.20 L457.11,886.66 L457.91,891.11 L458.70,895.51 L459.50,899.84 L460.30,904.07 L461.09,908.17 L461.89,912.14 L462.69,915.93 L463.48,919.52 L464.28,922.91 L465.08,926.06 L465.87,928.95 L466.67,931.58 L467.47,933.92 L468.26,935.96 L469.06,937.69 L469.86,939.10 L470.65,940.18 L471.45,940.92 L472.25,941.32 L473.04,941.39 L473.84,941.22 L474.63,940.85 L475.43,940.29 L476.23,939.53 L477.02,938.58 L477.82,937.44 L478.62,936.13 L479.41,934.64 L480.21,932.99 L481.01,931.19 L481.80,929.24 L482.60,927.16 L483.40,924.95 L484.19,922.63 L484.99,920.22 L485.79,917.72 L486.58,915.15 L487.38,912.52 L488.18,909.85 L488.97,907.16 L489.77,904.45 L490.56,901.74 L491.36,899.05 L492.16,896.39 L492.95,893.78 L493.75,891.22 L494.55,888.74 L495.34,886.35 L496.14,884.07 L496.94,881.89 L497.73,879.84 L498.53,877.93 L499.33,876.17 L500.12,874.56 L500.92,873.12 L501.72,871.85 L502.51,870.76 L503.31,869.86 L504.11,869.16 L504.90,868.64 L505.70,868.33 L506.49,868.22 L507.29,868.30 L508.09,868.57 L508.88,869.02 L509.68,869.67 L510.48,870.49 L511.27,871.49 L512.07,872.66 L512.87,874.00 L513.66,875.49 L514.46,877.14 L515.26,878.93 L516.05,880.86 L516.85,882.90 L517.65,885.06 L518.44,887.33 L519.24,889.68 L520.03,892.11 L520.83,894.61 L521.63,897.15 L522.42,899.74 L523.22,902.36 L524.02,904.98 L524.81,907.61 L525.61,910.22 L526.41,912.80 L527.20,915.35 L528.00,917.83" fill="none" stroke="#cc2424" stroke-width="3" stroke-linejoin="round"/>
</g>
<line x1="368.4" y1="687" x2="368.4" y2="941" stroke="#222" stroke-width="1.3" stroke-dasharray="6,2.5,1.5,2.5"/>
<text class="lg" x="435.3" y="730.5" fill="#cc2626" textLength="81.4" lengthAdjust="spacingAndGlyphs">632.8 nm</text>
<text class="lg" x="435" y="768" fill="#4ca842" textLength="65" lengthAdjust="spacingAndGlyphs">532 nm</text>
<line x1="406.7" y1="723.8" x2="426.7" y2="723.8" stroke="#cc2424" stroke-width="2.6"/>
<line x1="406.7" y1="761.7" x2="426" y2="761.7" stroke="#58ae42" stroke-width="2.8" stroke-dasharray="3.4,2.6"/>
</svg>
</body></html>
